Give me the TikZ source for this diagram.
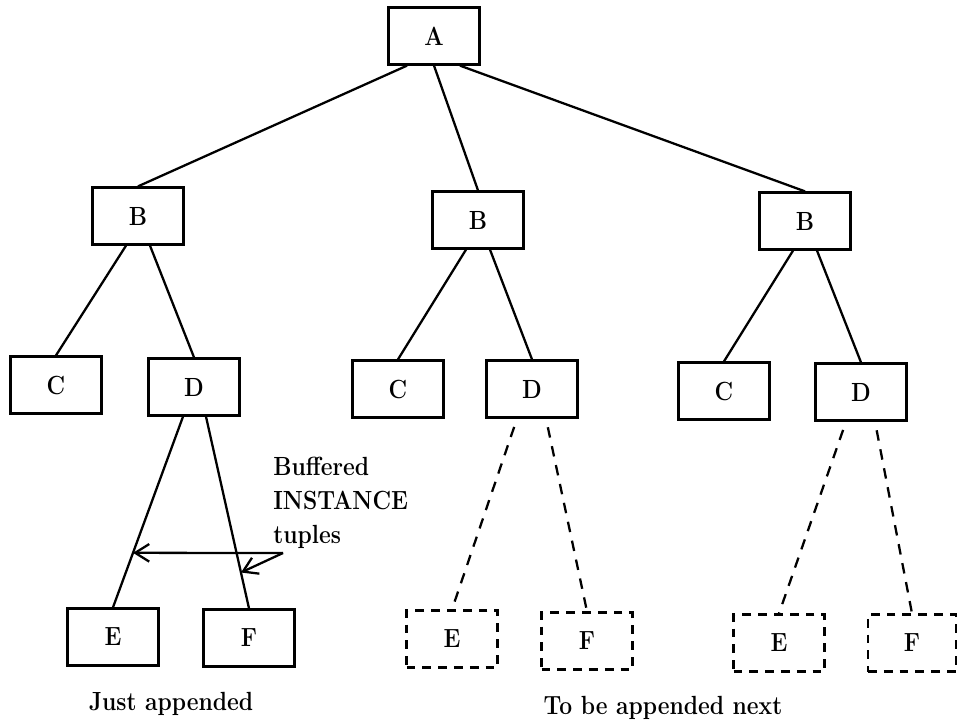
\documentclass[tikz,border=0pt]{standalone}
\usetikzlibrary{arrows.meta,calc}
% slightly taller letters than the plain bold face
\newcommand{\tallbf}[1]{\scalebox{1}[1.15]{#1}}
\tikzset{
  box/.style={draw, line width=1.3pt, minimum width=1.82cm, minimum height=1.14cm,
    inner sep=0pt, font=\fontsize{13}{16}\selectfont\bfseries},
  ghost/.style={box, dash pattern=on 5pt off 4pt},
  link/.style={line width=1.3pt},
  pending/.style={line width=1.3pt, dash pattern=on 6pt off 5pt, dash phase=6pt},
  lbl/.style={font=\fontsize{13}{16}\selectfont\bfseries, inner sep=0pt},
  pointer/.style={line width=1.3pt, -{Straight Barb[length=8pt,width=10pt,line width=1.3pt]}}
}
\begin{document}
\begin{tikzpicture}[x=0.02cm, y=-0.02cm]
\useasboundingbox (0,0) rectangle (957,724);

% root
\node[box] (A) at (434,36) {\tallbf{A}};

% second level
\node[box] (B1) at (138,216) {\tallbf{B}};
\node[box] (B2) at (478,220) {\tallbf{B}};
\node[box] (B3) at (805,221) {\tallbf{B}};

% third level
\node[box] (C1) at (56,385)  {\tallbf{C}};
\node[box] (D1) at (194,387) {\tallbf{D}};
\node[box] (C2) at (398,389) {\tallbf{C}};
\node[box] (D2) at (532,389) {\tallbf{D}};
\node[box] (C3) at (724,391) {\tallbf{C}};
\node[box] (D3) at (861,392) {\tallbf{D}};

% leaves: appended and pending
\node[box]   (E1) at (113,637) {\tallbf{E}};
\node[box]   (F1) at (249,638) {\tallbf{F}};
\node[ghost] (E2) at (452,639) {\tallbf{E}};
\node[ghost] (F2) at (587,641) {\tallbf{F}};
\node[ghost] (E3) at (779,643) {\tallbf{E}};
\node[ghost, minimum width=1.76cm] (F3) at (912,643) {\tallbf{F}};

% edges from the root
\draw[link] ([xshift=-0.54cm]A.south) -- (B1.north);
\draw[link] (A.south) -- (B2.north);
\draw[link] ([xshift=0.52cm]A.south) -- (B3.north);

% edges from B
\draw[link] ([xshift=-0.24cm]B1.south) -- (C1.north);
\draw[link] ([xshift=0.24cm]B1.south) -- (D1.north);
\draw[link] ([xshift=-0.24cm]B2.south) -- (C2.north);
\draw[link] ([xshift=0.24cm]B2.south) -- (D2.north);
\draw[link] ([xshift=-0.24cm]B3.south) -- (C3.north);
\draw[link] ([xshift=0.24cm]B3.south) -- (D3.north);

% edges from D
\draw[link] ([xshift=-0.22cm]D1.south) -- coordinate[pos=0.714] (hitE) (E1.north);
\draw[link] ([xshift=0.24cm]D1.south) -- coordinate[pos=0.813] (hitF) (F1.north);
\draw[pending] ([xshift=-0.3cm]D2.south) -- (E2.north);
\draw[pending] ([xshift=0.28cm]D2.south) -- (F2.north);
\draw[pending] ([xshift=-0.3cm]D3.south) -- (E3.north);
\draw[pending] ([xshift=0.28cm]D3.south) -- (F3.north);

% buffered tuples note
\node[lbl, anchor=base west] (buf1) at (273,475) {\tallbf{Buffered}};
\node[lbl, anchor=base west] (buf2) at (273,509) {\tallbf{INSTANCE}};
\node[lbl, anchor=base west] (buf3) at (273,543) {\tallbf{tuples}};
\coordinate (bufpt) at (283,553);
\draw[pointer] (bufpt) -- (hitE);
\draw[pointer] (bufpt) -- (hitF);

% captions
\node[lbl, anchor=base] (cap1) at (171,710) {\tallbf{Just appended}};
\node[lbl, anchor=base] (cap2) at (663,714) {\tallbf{To be appended next}};
\end{tikzpicture}
\end{document}
